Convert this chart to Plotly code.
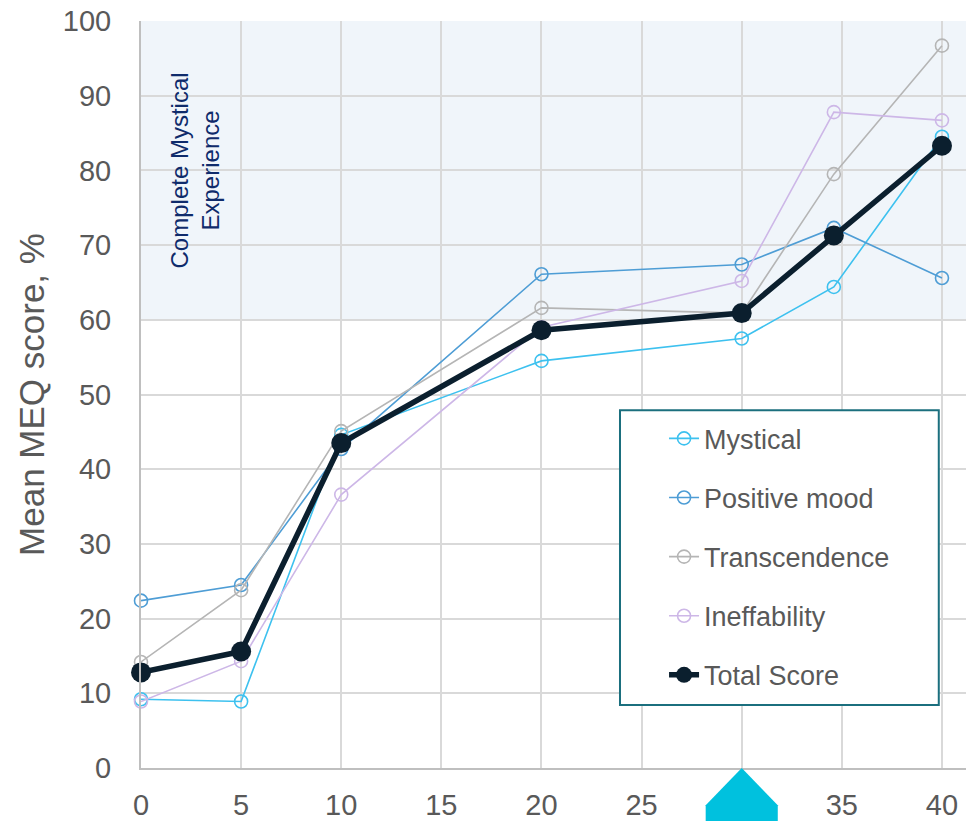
import plotly.graph_objects as go

# Dose groups (x) and mean MEQ subscale / total scores (%)
doses = [0, 5, 10, 20, 30, 34.6, 40]
mystical = [9.2, 8.9, 44.6, 54.5, 57.5, 64.4, 84.5]
positive_mood = [22.4, 24.5, 42.7, 66.1, 67.4, 72.3, 65.6]
transcendence = [14.2, 23.8, 45.1, 61.6, 60.9, 79.5, 96.7]
ineffability = [8.9, 14.3, 36.6, 59.0, 65.2, 87.8, 86.7]
total_score = [12.8, 15.6, 43.5, 58.6, 60.9, 71.3, 83.3]

x_ticks = [0, 5, 10, 15, 20, 25, 30, 35, 40]
x_tick_text = ["0", "5", "10", "15", "20", "25", "", "35", "40"]
y_ticks = [0, 10, 20, 30, 40, 50, 60, 70, 80, 90, 100]

X_RANGE = [0, 41.2]
Y_RANGE = [0, 100]
THRESHOLD = 60
HIGHLIGHT_DOSE = 30

FONT = "Liberation Sans, Arial, sans-serif"
TEXT_GRAY = "#595959"

series = [
    ("Mystical", mystical, "#3DC1EF"),
    ("Positive mood", positive_mood, "#4E9DD5"),
    ("Transcendence", transcendence, "#B5B5B5"),
    ("Ineffability", ineffability, "#CDB7E7"),
]

fig = go.Figure()

for name, vals, color in series:
    fig.add_trace(go.Scatter(
        x=doses, y=vals, name=name, mode="lines+markers",
        line=dict(color=color, width=1.6),
        marker=dict(symbol="circle-open", size=13, color=color,
                    line=dict(width=1.6, color=color)),
        legendgroup=name, cliponaxis=False,
    ))

fig.add_trace(go.Scatter(
    x=doses, y=total_score, name="Total Score", mode="lines+markers",
    line=dict(color="#0B1F2E", width=5.5),
    marker=dict(symbol="circle", size=20, color="#0B1F2E"),
    legendgroup="Total Score", cliponaxis=False,
))

# Shaded band: complete mystical experience threshold and above
fig.add_shape(type="rect", xref="paper", yref="y",
              x0=0, x1=1, y0=THRESHOLD, y1=Y_RANGE[1],
              fillcolor="#F0F5FA", line=dict(width=0), layer="below")

fig.add_annotation(
    x=2.7, y=80, xref="x", yref="y",
    text="Complete Mystical<br>Experience", textangle=-90,
    showarrow=False, align="center",
    font=dict(family=FONT, size=24, color="#0F2B6B"),
)

# Marker below the x axis at the highlighted dose
span = X_RANGE[1] - X_RANGE[0]
px = (HIGHLIGHT_DOSE - X_RANGE[0]) / span
half = 1.8 / span
fig.add_shape(
    type="path", xref="paper", yref="paper",
    path=(f"M {px},0 L {px + half},-0.05 L {px + half},-0.09 "
          f"L {px - half},-0.09 L {px - half},-0.05 Z"),
    fillcolor="#00C1DE", line=dict(width=0), layer="above",
)

# Legend frame
fig.add_shape(type="rect", xref="paper", yref="paper",
              x0=0.5806, x1=0.967, y0=0.0843, y1=0.479,
              fillcolor="white", line=dict(color="#1B6F7E", width=2),
              layer="above")

fig.update_layout(
    width=966, height=821,
    margin=dict(l=141, r=0, t=21, b=53),
    paper_bgcolor="white", plot_bgcolor="white",
    font=dict(family=FONT, color=TEXT_GRAY),
    showlegend=True,
    legend=dict(
        x=0.634, y=0.4734, xanchor="left", yanchor="top",
        bgcolor="rgba(0,0,0,0)", borderwidth=0,
        font=dict(family=FONT, size=27, color=TEXT_GRAY),
        traceorder="grouped", tracegroupgap=21,
    ),
    xaxis=dict(
        range=X_RANGE, tickvals=x_ticks, ticktext=x_tick_text,
        showgrid=True, gridcolor="#D9D9D9", gridwidth=2,
        showline=True, linecolor="#BFBFBF", linewidth=2,
        zeroline=False, ticks="", ticklabelstandoff=10,
        tickfont=dict(family=FONT, size=29, color=TEXT_GRAY),
    ),
    yaxis=dict(
        range=Y_RANGE, tickvals=y_ticks,
        showgrid=True, gridcolor="#D9D9D9", gridwidth=2,
        showline=True, linecolor="#BFBFBF", linewidth=2,
        zeroline=False, ticks="", ticklabelstandoff=22,
        tickfont=dict(family=FONT, size=29, color=TEXT_GRAY),
        title=dict(text="Mean MEQ score, %", standoff=8,
                   font=dict(family=FONT, size=35, color=TEXT_GRAY)),
    ),
)

fig.write_html("out.html")
